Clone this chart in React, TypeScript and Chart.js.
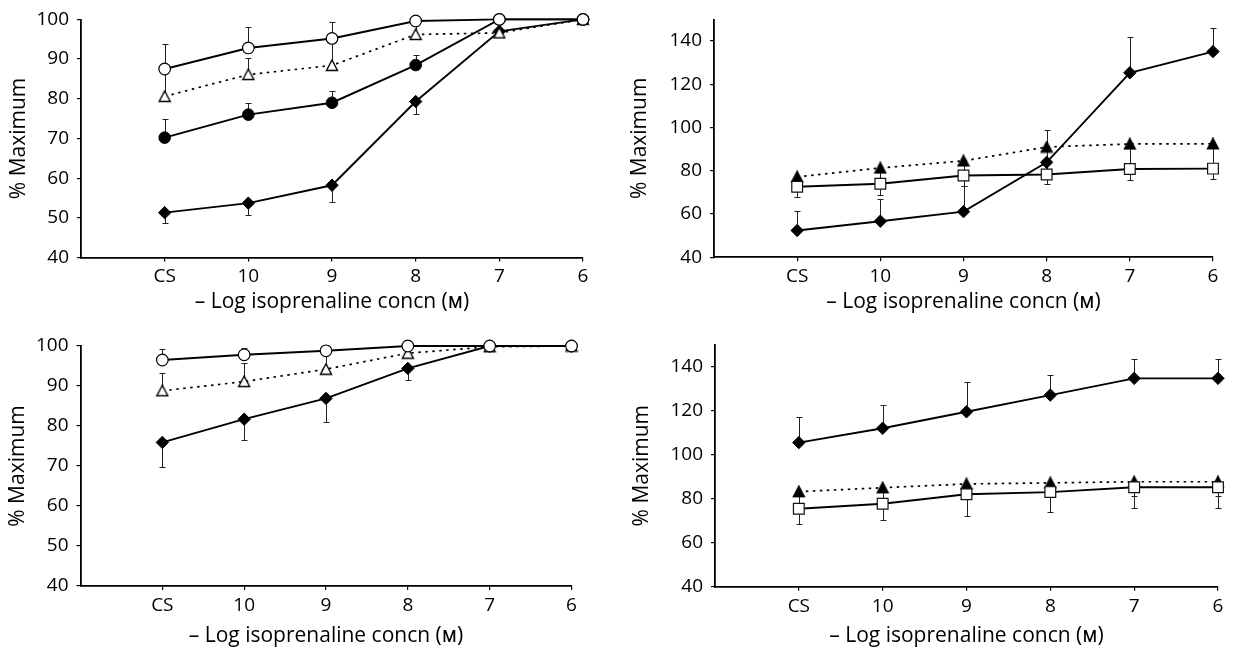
import React, { useEffect, useRef } from "react";
import { Chart, registerables } from "chart.js";

Chart.register(...registerables);

// ---------- shared axis data ----------
const xLabels = ["CS", "10", "9", "8", "7", "6"];
const xPositions = [1, 2, 3, 4, 5, 6];
const xTitle = "– Log isoprenaline concn (ᴍ)";
const yTitle = "% Maximum";

// ---------- panel A (top left) ----------
const aOpenCircle = [87.5, 92.8, 95.2, 99.6, 100, 100];
const aOpenCircleErr = [93.7, 98.2, 99.3, null, null, null];
const aOpenTriangle = [80.6, 86.1, 88.4, 96.2, 96.6, 100];
const aOpenTriangleErr = [87, 90.2, 95, 99, null, null];
const aFilledCircle = [70.2, 76, 79, 88.5, 100, 100];
const aFilledCircleErr = [74.8, 78.9, 82, 91.1, null, null];
const aDiamond = [51.3, 53.7, 58.2, 79.3, 97, 100];
const aDiamondErr = [48.7, 50.6, 54.1, 76.2, null, null];

// ---------- panel B (top right) ----------
const bDiamond = [52.4, 56.7, 61.1, 83.9, 125.3, 135.1];
const bDiamondErr = [61.2, 66.8, 73, 99, 142, 146.2];
const bFilledTriangle = [77.2, 81.3, 84.6, 91, 92.4, 92.5];
const bFilledTriangleErr = [73, 75, 78, 79, 82, 82];
const bSquare = [72.6, 74, 77.8, 78.3, 80.8, 81];
const bSquareErr = [67.9, 68.6, 73, 73.7, 75.7, 76];

// ---------- panel C (bottom left) ----------
const cOpenCircle = [96.5, 97.8, 98.8, 100, 100, 100];
const cOpenCircleErr = [99.3, 99.4, null, null, null, null];
const cOpenTriangle = [88.8, 91.1, 94.2, 98.2, 99.8, 100];
const cOpenTriangleErr = [93.2, 95.8, 97.8, 99.5, null, null];
const cDiamond = [75.9, 81.7, 86.9, 94.4, 100, 100];
const cDiamondErr = [69.8, 76.5, 81, 91.5, null, null];

// ---------- panel D (bottom right) ----------
const dDiamond = [105.5, 112, 119.5, 127.1, 134.7, 134.7];
const dDiamondErr = [117.3, 122.7, 132.9, 136.1, 143.6, 143.6];
const dFilledTriangle = [83.2, 85, 86.7, 87.2, 87.7, 87.7];
const dFilledTriangleErr = [77, 79, 83, 84, 81, 81];
const dSquare = [75.4, 77.7, 82, 83, 85.2, 85.2];
const dSquareErr = [68.3, 70.3, 72.3, 73.8, 75.6, 75.6];

const FONT = "'Open Sans', 'Noto Sans', 'DejaVu Sans', sans-serif";

function triangleImg(filled: boolean): HTMLCanvasElement {
  const w = 14;
  const h = 13;
  const c = document.createElement("canvas");
  c.width = w;
  c.height = h;
  const ctx = c.getContext("2d")!;
  ctx.beginPath();
  ctx.moveTo(w / 2, 1);
  ctx.lineTo(w - 1.5, h - 1.5);
  ctx.lineTo(1.5, h - 1.5);
  ctx.closePath();
  ctx.fillStyle = filled ? "#000" : "#fff";
  ctx.fill();
  ctx.lineWidth = 1.4;
  ctx.strokeStyle = "#000";
  ctx.stroke();
  return c;
}

type Marker = "openCircle" | "filledCircle" | "diamond" | "openTriangle" | "filledTriangle" | "square";

interface SeriesDef {
  values: number[];
  errs: (number | null)[];
  marker: Marker;
  dotted: boolean;
}

interface PanelDef {
  left: number;
  top: number;
  width: number;
  height: number;
  yMin: number;
  yMax: number;
  yStep: number;
  yWidth: number;
  xHeight: number;
  padTop: number;
  padRight: number;
  yTitlePad: number;
  xTitlePad: number;
  series: SeriesDef[];
}

function markerProps(m: Marker, tri: { open: HTMLCanvasElement; filled: HTMLCanvasElement }) {
  switch (m) {
    case "openCircle":
      return { pointStyle: "circle", pointRadius: 5.8, pointBackgroundColor: "#fff", pointBorderColor: "#000", pointBorderWidth: 1.2 };
    case "filledCircle":
      return { pointStyle: "circle", pointRadius: 5.8, pointBackgroundColor: "#000", pointBorderColor: "#000", pointBorderWidth: 1 };
    case "diamond":
      return { pointStyle: "rectRot", pointRadius: 6.2, pointBackgroundColor: "#000", pointBorderColor: "#000", pointBorderWidth: 1 };
    case "square":
      return { pointStyle: "rect", pointRadius: 7.6, pointBackgroundColor: "#fff", pointBorderColor: "#111", pointBorderWidth: 1.2 };
    case "openTriangle":
      return { pointStyle: tri.open, pointRadius: 6, pointBorderWidth: 0 };
    case "filledTriangle":
      return { pointStyle: tri.filled, pointRadius: 6, pointBorderWidth: 0 };
  }
}

function makeErrorPlugin(series: SeriesDef[]) {
  return {
    id: "errorBars",
    beforeDatasetsDraw(chart: any) {
      const ctx = chart.ctx as CanvasRenderingContext2D;
      const xs = chart.scales.x;
      const ys = chart.scales.y;
      ctx.save();
      ctx.strokeStyle = "#222";
      ctx.lineWidth = 1;
      series.forEach((s) => {
        s.values.forEach((v, i) => {
          const e = s.errs[i];
          if (e === null || e === undefined) return;
          const px = Math.round(xs.getPixelForValue(xPositions[i])) + 0.5;
          const py = ys.getPixelForValue(v);
          const pe = Math.round(ys.getPixelForValue(e)) + 0.5;
          ctx.beginPath();
          ctx.moveTo(px, py);
          ctx.lineTo(px, pe);
          ctx.moveTo(px - 3, pe);
          ctx.lineTo(px + 3, pe);
          ctx.stroke();
        });
      });
      ctx.restore();
    },
  };
}

const panels: PanelDef[] = [
  {
    left: 0, top: 0, width: 620, height: 320,
    yMin: 40, yMax: 100, yStep: 10,
    yWidth: 81, xHeight: 62.5, padTop: 17.3, padRight: 37,
    yTitlePad: 6.4, xTitlePad: 5.4,
    series: [
      { values: aOpenCircle, errs: aOpenCircleErr, marker: "openCircle", dotted: false },
      { values: aFilledCircle, errs: aFilledCircleErr, marker: "filledCircle", dotted: false },
      { values: aOpenTriangle, errs: aOpenTriangleErr, marker: "openTriangle", dotted: true },
      { values: aDiamond, errs: aDiamondErr, marker: "diamond", dotted: false },
    ],
  },
  {
    left: 620, top: 0, width: 619, height: 320,
    yMin: 40, yMax: 150, yStep: 20,
    yWidth: 94, xHeight: 62.7, padTop: 15.7, padRight: 26,
    yTitlePad: 7, xTitlePad: 5.7,
    series: [
      { values: bSquare, errs: bSquareErr, marker: "square", dotted: false },
      { values: bFilledTriangle, errs: bFilledTriangleErr, marker: "filledTriangle", dotted: true },
      { values: bDiamond, errs: bDiamondErr, marker: "diamond", dotted: false },
    ],
  },
  {
    left: 0, top: 320, width: 620, height: 329,
    yMin: 40, yMax: 100, yStep: 10,
    yWidth: 80.5, xHeight: 63, padTop: 26, padRight: 48.5,
    yTitlePad: 5.2, xTitlePad: 0.4,
    series: [
      { values: cOpenCircle, errs: cOpenCircleErr, marker: "openCircle", dotted: false },
      { values: cOpenTriangle, errs: cOpenTriangleErr, marker: "openTriangle", dotted: true },
      { values: cDiamond, errs: cDiamondErr, marker: "diamond", dotted: false },
    ],
  },
  {
    left: 620, top: 320, width: 619, height: 329,
    yMin: 40, yMax: 150, yStep: 20,
    yWidth: 95, xHeight: 62.3, padTop: 24.7, padRight: 21,
    yTitlePad: 9.4, xTitlePad: 0,
    series: [
      { values: dSquare, errs: dSquareErr, marker: "square", dotted: false },
      { values: dFilledTriangle, errs: dFilledTriangleErr, marker: "filledTriangle", dotted: true },
      { values: dDiamond, errs: dDiamondErr, marker: "diamond", dotted: false },
    ],
  },
];

function Panel({ def }: { def: PanelDef }) {
  const ref = useRef<HTMLCanvasElement | null>(null);
  useEffect(() => {
    if (!ref.current) return;
    const tri = { open: triangleImg(false), filled: triangleImg(true) };
    const datasets = def.series.map((s) => ({
      data: s.values.map((v, i) => ({ x: xPositions[i], y: v })),
      borderColor: "#000",
      borderWidth: s.dotted ? 1.7 : 1.9,
      borderDash: s.dotted ? [2.5, 4.5] : [],
      fill: false,
      tension: 0,
      clip: false as any,
      ...markerProps(s.marker, tri),
    }));
    const chart = new Chart(ref.current, {
      type: "line",
      data: { datasets: datasets as any },
      plugins: [makeErrorPlugin(def.series)],
      options: {
        animation: false,
        responsive: false,
        devicePixelRatio: 1,
        layout: { padding: { top: def.padTop, right: def.padRight, left: 0, bottom: 0 } },
        plugins: { legend: { display: false }, tooltip: { enabled: false } },
        events: [],
        scales: {
          x: {
            type: "linear",
            min: 0,
            max: 6,
            afterBuildTicks: (scale: any) => {
              scale.ticks = xPositions.map((v) => ({ value: v }));
            },
            afterFit: (scale: any) => {
              scale.height = def.xHeight;
            },
            ticks: {
              autoSkip: false,
              maxRotation: 0,
              padding: 4,
              color: "#000",
              font: { family: FONT, size: 19 },
              callback: (v: any) => xLabels[Number(v) - 1] ?? "",
            },
            grid: { drawOnChartArea: false, drawTicks: true, tickLength: 4, color: "#000", lineWidth: 1.2 },
            border: { display: true, color: "#000", width: 1.8 },
            title: {
              display: true,
              text: xTitle,
              color: "#000",
              font: { family: FONT, size: 21 },
              padding: { top: 0, bottom: def.xTitlePad },
            },
          },
          y: {
            type: "linear",
            min: def.yMin,
            max: def.yMax,
            afterBuildTicks: (scale: any) => {
              scale.ticks = scale.ticks.filter(
                (t: any) => Math.abs(((t.value - def.yMin) / def.yStep) - Math.round((t.value - def.yMin) / def.yStep)) < 1e-6
              );
            },
            afterFit: (scale: any) => {
              scale.width = def.yWidth;
            },
            ticks: {
              stepSize: def.yStep,
              padding: 8,
              color: "#000",
              font: { family: FONT, size: 19 },
            },
            grid: { drawOnChartArea: false, drawTicks: true, tickLength: 4, color: "#000", lineWidth: 1.2 },
            border: { display: true, color: "#000", width: 1.8 },
            title: {
              display: true,
              text: yTitle,
              color: "#000",
              font: { family: FONT, size: 21 },
              padding: { top: def.yTitlePad, bottom: 0 },
            },
          },
        },
      } as any,
    });
    return () => chart.destroy();
  }, [def]);
  return (
    <canvas
      ref={ref}
      width={def.width}
      height={def.height}
      style={{ position: "absolute", left: def.left, top: def.top, width: def.width, height: def.height }}
    />
  );
}

export default function App() {
  return (
    <div style={{ position: "fixed", left: 0, top: 0, width: 1239, height: 649, background: "#fff", overflow: "hidden" }}>
      {panels.map((p, i) => (
        <Panel key={i} def={p} />
      ))}
    </div>
  );
}
